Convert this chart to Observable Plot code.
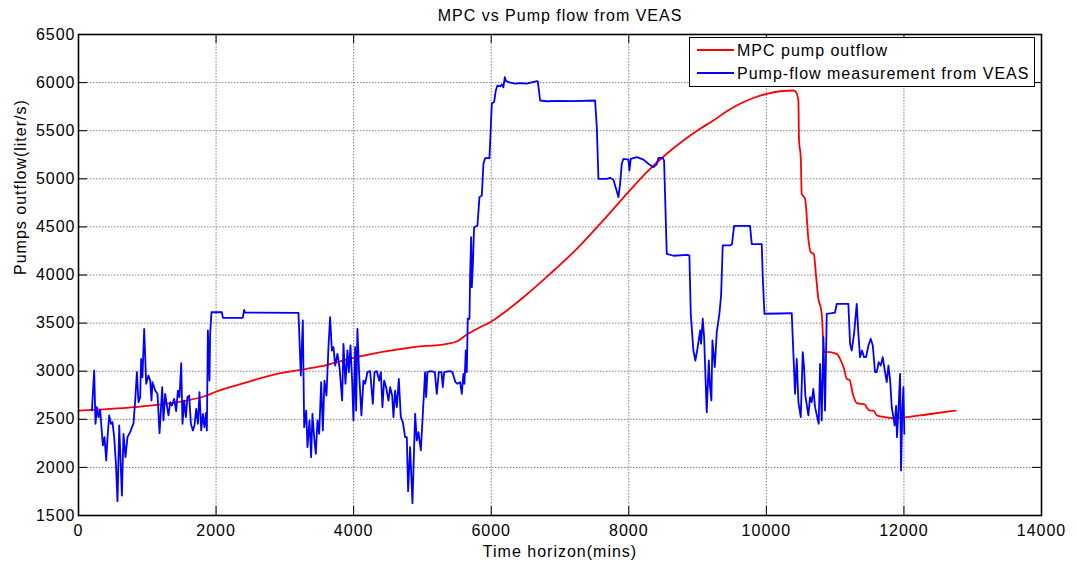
<!DOCTYPE html>
<html><head><meta charset="utf-8">
<script src="https://cdn.jsdelivr.net/npm/d3@7"></script>
<script src="https://cdn.jsdelivr.net/npm/@observablehq/plot@0.6"></script>
<style>
body{margin:0;background:#fff;}
#wrap{position:relative;width:1077px;height:564px;font-family:"Liberation Sans",Arial,sans-serif;}
#legend{position:absolute;left:689px;top:37px;width:346px;height:50px;border:1.5px solid #000;background:#fff;box-sizing:border-box;}
#legend svg{position:absolute;left:0;top:0;}
</style></head><body><div id="wrap"></div>
<script>
const title = "MPC vs Pump flow from VEAS";
const xLabel = "Time horizon(mins)";
const yLabel = "Pumps outflow(liter/s)";
const seriesNames = ["MPC pump outflow", "Pump-flow measurement from VEAS"];
const seriesColors = ["#ff0000", "#0000ff"];
const xTicks = [0, 2000, 4000, 6000, 8000, 10000, 12000, 14000];
const yTicks = [1500, 2000, 2500, 3000, 3500, 4000, 4500, 5000, 5500, 6000, 6500];

// MPC pump outflow (red)
const mpcTime = [0, 800, 1821, 2011, 2400, 2787, 3150, 3513, 3997, 4870, 5354, 5500, 5645, 5839, 5984, 6129, 6468, 6856, 7244, 7583, 7971, 8262, 8552, 8794, 9036, 9230, 9420, 9618, 9810, 10006, 10200, 10394, 10432, 10465, 10475, 10500, 10514, 10563, 10611, 10645, 10690, 10722, 10756, 10790, 10805, 10839, 10878, 11023, 11071, 11130, 11168, 11210, 11256, 11314, 11435, 11460, 11508, 11560, 11605, 11798, 11847, 12041, 12332, 12753];
const mpcFlow = [2591, 2626, 2737, 2790, 2875, 2955, 3005, 3049, 3139, 3250, 3285, 3309, 3381, 3457, 3509, 3579, 3769, 4012, 4272, 4532, 4844, 5069, 5260, 5398, 5520, 5606, 5700, 5780, 5840, 5884, 5910, 5918, 5900, 5814, 5398, 5225, 4844, 4792, 4376, 4237, 4220, 3994, 3753, 3665, 3597, 3198, 3200, 3181, 3129, 3025, 2921, 2910, 2765, 2668, 2654, 2620, 2591, 2591, 2540, 2515, 2512, 2522, 2550, 2591];

// Pump-flow measurement from VEAS (blue)
const veasTime = [195, 228, 247, 267, 291, 315, 354, 378, 403, 422, 446, 471, 494, 519, 544, 567, 592, 631, 654, 683, 712, 751, 800, 824, 849, 872, 897, 911, 930, 955, 984, 1017, 1042, 1061, 1076, 1115, 1148, 1178, 1217, 1235, 1260, 1285, 1308, 1333, 1358, 1391, 1420, 1445, 1468, 1493, 1512, 1536, 1561, 1584, 1609, 1634, 1663, 1686, 1711, 1736, 1759, 1784, 1808, 1831, 1852, 1866, 1881, 1904, 1914, 1933, 2084, 2100, 2389, 2408, 2420, 3198, 3232, 3261, 3281, 3310, 3329, 3358, 3382, 3401, 3426, 3450, 3474, 3499, 3528, 3552, 3576, 3605, 3634, 3658, 3683, 3707, 3731, 3765, 3794, 3833, 3852, 3881, 3910, 3930, 3954, 3978, 3997, 4022, 4036, 4055, 4080, 4113, 4142, 4167, 4201, 4240, 4279, 4303, 4337, 4371, 4395, 4419, 4443, 4472, 4506, 4531, 4560, 4579, 4603, 4628, 4657, 4686, 4715, 4748, 4773, 4792, 4821, 4855, 4894, 4918, 4942, 4977, 5006, 5039, 5054, 5073, 5116, 5180, 5209, 5238, 5277, 5296, 5316, 5400, 5436, 5480, 5509, 5548, 5572, 5596, 5611, 5630, 5645, 5659, 5684, 5693, 5708, 5718, 5732, 5751, 5800, 5829, 5863, 5887, 5911, 5974, 5994, 6009, 6042, 6067, 6090, 6129, 6154, 6177, 6198, 6217, 6275, 6350, 6420, 6517, 6663, 6678, 6711, 6808, 7000, 7195, 7510, 7535, 7559, 7680, 7728, 7777, 7815, 7850, 7874, 7898, 7922, 7995, 8009, 8029, 8116, 8213, 8285, 8358, 8406, 8431, 8494, 8513, 8552, 8649, 8842, 8881, 8901, 8939, 8968, 8998, 9037, 9051, 9075, 9095, 9133, 9163, 9182, 9201, 9216, 9250, 9279, 9317, 9342, 9366, 9472, 9500, 9531, 9763, 9788, 9933, 9948, 9972, 10200, 10369, 10393, 10417, 10442, 10466, 10500, 10529, 10548, 10567, 10611, 10635, 10659, 10683, 10708, 10761, 10781, 10805, 10829, 10853, 10878, 10950, 10998, 11023, 11192, 11217, 11241, 11275, 11314, 11338, 11362, 11391, 11420, 11449, 11484, 11517, 11547, 11580, 11605, 11634, 11663, 11692, 11721, 11750, 11775, 11800, 11823, 11847, 11866, 11886, 11899, 11920, 11944, 11958, 11977, 11992, 12006];
const veasFlow = [2591, 3007, 2453, 2626, 2522, 2599, 2228, 2314, 2072, 2314, 2540, 2453, 2470, 2314, 2037, 1649, 2436, 1708, 2349, 2106, 2314, 2366, 2460, 2695, 2990, 2678, 2730, 3129, 2938, 3441, 2869, 2955, 2903, 2695, 2886, 2799, 2765, 2356, 2834, 2488, 2765, 2643, 2540, 2678, 2643, 2713, 2584, 2799, 2730, 3083, 2453, 2695, 2522, 2730, 2747, 2453, 2384, 2436, 2609, 2453, 2782, 2384, 2557, 2418, 2563, 2384, 3423, 2903, 3389, 3613, 3613, 3555, 3555, 3638, 3610, 3607, 2955, 3527, 2418, 2591, 2210, 2488, 2106, 2557, 2314, 2141, 2488, 2349, 2886, 2384, 2903, 2747, 3250, 3562, 3215, 3250, 3059, 3181, 3042, 2695, 3285, 2869, 3215, 2990, 3267, 2903, 2488, 3250, 2591, 3441, 2973, 2540, 2903, 2869, 2990, 3000, 2661, 2990, 3000, 2903, 2990, 2626, 2903, 2834, 2695, 2834, 2747, 2522, 2799, 2626, 2921, 2522, 2470, 2314, 2314, 1753, 2210, 1628, 2557, 2280, 2366, 2176, 2557, 2990, 2730, 2990, 3000, 2990, 2765, 2990, 2990, 2834, 2990, 3000, 2990, 2886, 2869, 2886, 2765, 2973, 2869, 3215, 2990, 3545, 3545, 3977, 4393, 3873, 4081, 4497, 4515, 4809, 4826, 5156, 5214, 5214, 5536, 5786, 5796, 5918, 5970, 5960, 5980, 5950, 6056, 6015, 6000, 5990, 5995, 5990, 6015, 6010, 5814, 5806, 5810, 5808, 5814, 5536, 5000, 5000, 5010, 4990, 4896, 4809, 4950, 5156, 5208, 5200, 5086, 5208, 5225, 5200, 5156, 5121, 5150, 5218, 5218, 5190, 4220, 4200, 4210, 4203, 3597, 3215, 3111, 3233, 3423, 3285, 3545, 3353, 2574, 3111, 2834, 2695, 3319, 3042, 3405, 3597, 3787, 4307, 4307, 4320, 4510, 4510, 4320, 4320, 3975, 3597, 3600, 3603, 3181, 2765, 3129, 2678, 2522, 3198, 3042, 2747, 2540, 2730, 2678, 2817, 2626, 2453, 3077, 2488, 3353, 2591, 3597, 3603, 3610, 3700, 3700, 3285, 3215, 3389, 3700, 3389, 3146, 3215, 3146, 3146, 3267, 3337, 3267, 2990, 2990, 3094, 3059, 3146, 3011, 2886, 3059, 2900, 2626, 2522, 2435, 2640, 2314, 2592, 2973, 1968, 2600, 2834, 2349];

const mpcData = mpcTime.map((t, i) => ({t, v: mpcFlow[i]}));
const veasData = veasTime.map((t, i) => ({t, v: veasFlow[i]}));

const W = 1077, H = 564, mL = 78, mR = 36, mT = 34, mB = 49;
const fw = W - mL - mR, fh = H - mT - mB;
const tickLen = 9;
const font = '"Liberation Sans", Arial, sans-serif';
const fmt = d => String(d);

const chart = Plot.plot({
  width: W, height: H,
  marginLeft: mL, marginRight: mR, marginTop: mT, marginBottom: mB,
  style: {fontFamily: font, fontSize: "16px", letterSpacing: "1px", color: "#000", background: "#fff", overflow: "visible"},
  x: {domain: [0, 14000]},
  y: {domain: [1500, 6500]},
  marks: [
    Plot.gridX(xTicks, {stroke: "#808080", strokeOpacity: 1, strokeDasharray: "1.5,1.5", strokeWidth: 1}),
    Plot.gridY(yTicks, {stroke: "#808080", strokeOpacity: 1, strokeDasharray: "1.5,1.5", strokeWidth: 1}),
    Plot.tickX(xTicks, {x: d => d, stroke: "#000", strokeWidth: 1, insetTop: fh - tickLen}),
    Plot.tickX(xTicks, {x: d => d, stroke: "#000", strokeWidth: 1, insetBottom: fh - tickLen}),
    Plot.tickY(yTicks, {y: d => d, stroke: "#000", strokeWidth: 1, insetRight: fw - tickLen}),
    Plot.tickY(yTicks, {y: d => d, stroke: "#000", strokeWidth: 1, insetLeft: fw - tickLen}),
    Plot.line(mpcData, {x: "t", y: "v", stroke: seriesColors[0], strokeWidth: 1.8, curve: "monotone-x"}),
    Plot.line(veasData, {x: "t", y: "v", stroke: seriesColors[1], strokeWidth: 1.8}),
    Plot.frame({stroke: "#000", strokeWidth: 1.6}),
    Plot.axisX(xTicks, {tickSize: 0, tickPadding: 9, label: null, fontSize: 16, tickFormat: fmt}),
    Plot.axisY(yTicks, {tickSize: 0, tickPadding: 3, label: null, fontSize: 16, tickFormat: fmt}),
    Plot.text([title], {text: d => d, frameAnchor: "top", dy: -19, lineAnchor: "middle", fontSize: 16}),
    Plot.text([xLabel], {text: d => d, frameAnchor: "bottom", dy: 36, lineAnchor: "middle", fontSize: 16}),
    Plot.text([yLabel], {text: d => d, frameAnchor: "left", dx: -58, rotate: -90, lineAnchor: "middle", fontSize: 16})
  ]
});

const wrap = document.getElementById("wrap");
wrap.appendChild(chart);

// legend overlay
const leg = document.createElement("div");
leg.id = "legend";
wrap.appendChild(leg);
const ls = d3.select(leg).append("svg").attr("width", 346).attr("height", 50)
  .style("font-family", font).style("font-size", "16px").style("letter-spacing", "1px");
seriesNames.forEach((name, i) => {
  const yy = 12 + i * 23;
  ls.append("line").attr("x1", 7).attr("x2", 44).attr("y1", yy).attr("y2", yy)
    .attr("stroke", seriesColors[i]).attr("stroke-width", 1.8);
  ls.append("text").attr("x", 47).attr("y", yy + 6).attr("fill", "#000").text(name);
});
</script></body></html>
